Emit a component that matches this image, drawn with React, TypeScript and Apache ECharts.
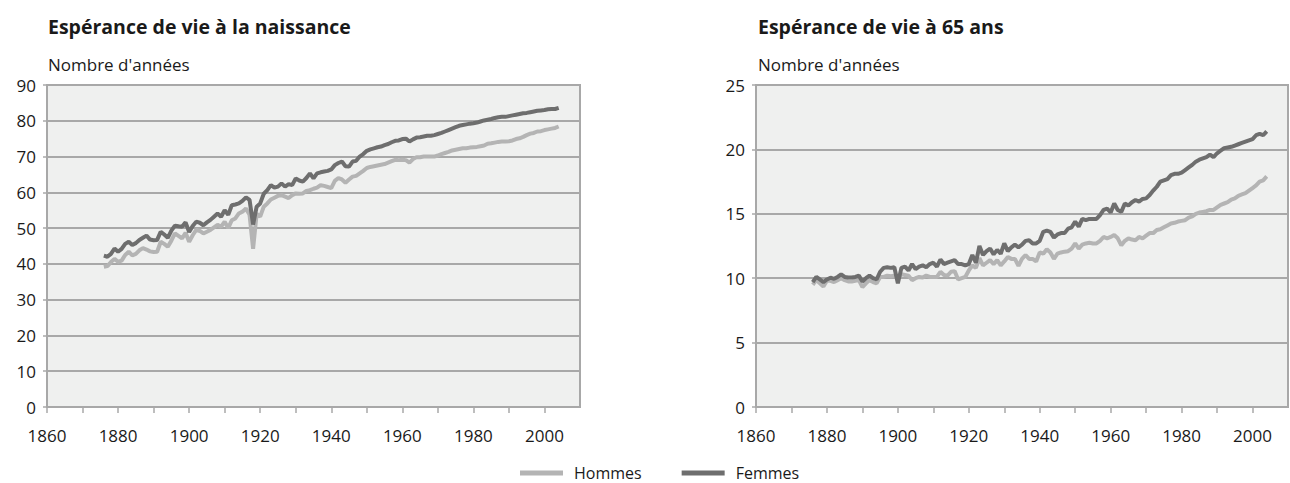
import React, { useEffect, useRef } from "react";
import * as echarts from "echarts";

const FIRST_YEAR = 1876;

// Espérance de vie à la naissance (années), 1876–2004
const hommesNaissance = [
  39.2, 39.4, 40.5, 41.4, 40.6, 40.9, 42.5, 43.4, 42.4, 42.8,
  43.8, 44.4, 44.0, 43.5, 43.3, 43.4, 46.2, 45.6, 44.8, 46.5,
  48.5, 47.8, 47.1, 48.7, 46.2, 48.0, 49.5, 49.2, 48.5, 49.0,
  49.5, 50.2, 50.9, 50.4, 51.8, 50.0, 52.2, 52.7, 54.1, 54.6,
  55.5, 53.7, 44.2, 54.0, 53.2, 56.0, 56.9, 58.0, 58.5, 59.0,
  59.2, 58.8, 58.4, 59.2, 59.7, 59.6, 59.7, 60.4, 60.6, 61.0,
  61.3, 62.0, 61.8, 61.5, 61.2, 63.2, 64.0, 63.6, 62.7, 63.6,
  64.4, 64.6, 65.3, 66.0, 66.8, 67.1, 67.3, 67.5, 67.7, 67.9,
  68.3, 68.7, 69.1, 69.0, 69.1, 69.0, 68.3, 69.3, 69.8, 69.8,
  70.0, 70.0, 70.0, 70.0, 70.3, 70.7, 71.0, 71.3, 71.7, 71.9,
  72.1, 72.3, 72.3, 72.5, 72.6, 72.7, 72.9, 73.1, 73.6, 73.7,
  73.9, 74.1, 74.2, 74.2, 74.3, 74.5, 74.9, 75.1, 75.5, 76.0,
  76.4, 76.6, 77.0, 77.1, 77.4, 77.6, 77.8, 78.0, 78.4,
];
const femmesNaissance = [
  42.3, 42.0, 42.8, 44.3, 43.4, 44.2, 45.6, 46.2, 45.3, 45.8,
  46.7, 47.3, 47.9, 46.8, 46.6, 46.7, 49.0, 48.2, 47.3, 49.3,
  50.7, 50.5, 50.4, 51.6, 48.9, 50.6, 51.8, 51.5, 50.8, 51.6,
  52.3, 53.2, 54.1, 53.2, 55.0, 53.7, 56.4, 56.6, 56.9, 57.6,
  58.6, 57.9, 51.0, 56.0, 56.9, 59.6, 60.6, 62.0, 61.3, 61.6,
  62.5, 61.6, 62.3, 62.0, 63.9, 63.3, 63.0, 64.0, 65.3, 63.9,
  65.3, 65.6, 65.8, 66.0, 66.4, 67.6, 68.2, 68.6, 67.3, 67.2,
  68.6, 68.8, 70.0, 70.7, 71.6, 72.0, 72.3, 72.6, 72.8, 73.2,
  73.5, 74.0, 74.4, 74.5, 74.9, 75.0, 74.2, 74.8, 75.3, 75.4,
  75.6, 75.8, 75.8, 76.0, 76.3, 76.6, 77.0, 77.4, 77.8, 78.2,
  78.6, 78.8, 79.0, 79.2, 79.3, 79.5, 79.8, 80.1, 80.3, 80.5,
  80.8, 81.0, 81.1, 81.1, 81.3, 81.5, 81.7, 81.9, 82.1, 82.2,
  82.4, 82.6, 82.8, 82.9, 83.0, 83.2, 83.3, 83.3, 83.6,
];

// Espérance de vie à 65 ans (années), 1876–2004
const hommes65 = [
  9.5, 9.85, 9.6, 9.35, 9.8, 9.8, 9.7, 9.85, 10.0, 9.85,
  9.75, 9.75, 9.8, 9.85, 9.3, 9.6, 9.85, 9.7, 9.6, 10.1,
  10.1, 10.2, 10.15, 10.2, 10.0, 10.3, 10.25, 10.2, 9.85, 10.0,
  10.1, 10.05, 10.2, 10.1, 10.1, 10.1, 10.5, 10.25, 10.2, 10.5,
  10.55, 9.9, 10.0, 10.1, 10.6, 11.0, 10.8, 11.55, 11.0, 11.2,
  11.4, 11.1, 11.4, 11.0, 11.3, 11.65, 11.5, 11.5, 10.95, 11.5,
  11.8, 11.5, 11.5, 11.3, 12.0, 11.9, 12.25, 12.0, 11.5, 11.9,
  12.0, 12.06, 12.1, 12.3, 12.7, 12.3, 12.6, 12.7, 12.75, 12.7,
  12.7, 12.9, 13.2, 13.1, 13.2, 13.35, 13.1, 12.55, 12.9, 13.1,
  13.0, 12.95, 13.2, 13.1, 13.3, 13.5, 13.5, 13.74, 13.8, 13.95,
  14.1, 14.25, 14.3, 14.4, 14.45, 14.5, 14.7, 14.8, 15.0, 15.1,
  15.15, 15.2, 15.3, 15.3, 15.5, 15.7, 15.8, 15.9, 16.1, 16.2,
  16.4, 16.5, 16.6, 16.8, 17.0, 17.2, 17.5, 17.6, 17.9,
];
const femmes65 = [
  9.7, 10.1, 9.9, 9.7, 9.9, 10.04, 9.95, 10.1, 10.3, 10.1,
  10.05, 10.05, 10.1, 10.2, 9.75, 10.0, 10.2, 10.0, 9.9, 10.5,
  10.8, 10.85, 10.8, 10.85, 9.6, 10.8, 10.9, 10.6, 11.1, 10.7,
  10.9, 11.0, 10.85, 11.1, 11.2, 10.9, 11.45, 11.1, 11.2, 11.3,
  11.4, 11.1, 11.1, 11.0, 11.1, 11.8, 11.2, 12.5, 11.8, 12.1,
  12.3, 11.85, 12.2, 11.9, 12.7, 12.1, 12.4, 12.6, 12.4, 12.6,
  12.9, 12.95, 12.7, 12.7, 12.9, 13.6, 13.7, 13.6, 13.15, 13.4,
  13.5, 13.5, 13.85, 13.95, 14.4, 14.0, 14.6, 14.5, 14.6, 14.6,
  14.6, 14.9, 15.3, 15.4, 15.1, 15.8, 15.3, 15.15, 15.8, 15.65,
  15.9, 16.07, 15.95, 16.15, 16.2, 16.46, 16.8, 17.1, 17.5, 17.6,
  17.7, 18.0, 18.1, 18.1, 18.2, 18.4, 18.6, 18.8, 19.05, 19.2,
  19.3, 19.4, 19.6, 19.4, 19.7, 19.9, 20.1, 20.15, 20.2, 20.3,
  20.4, 20.5, 20.6, 20.7, 20.8, 21.1, 21.2, 21.1, 21.4,
];

const years = hommesNaissance.map((_, i) => FIRST_YEAR + i);
const pairs = (vals: number[]) => vals.map((v, i) => [years[i], v]);

const SERIES_NAMES = ["Hommes", "Femmes"];
const titles = ["Espérance de vie à la naissance", "Espérance de vie à 65 ans"];
const unitLabel = "Nombre d'années";

const FONT = "'Open Sans', 'Noto Sans', sans-serif";
const GRID_COLOR = "#a8a8a8";
const TEXT_COLOR = "#1a1a1a";
const COLOR_H = "#b4b4b4";
const COLOR_F = "#6e6e6e";

export default function App() {
  const ref = useRef<HTMLDivElement>(null);

  useEffect(() => {
    if (!ref.current) return;
    const chart = echarts.init(ref.current, null, { renderer: "svg" });

    const xAxisCfg = (gridIndex: number) => ({
      gridIndex,
      type: "value",
      min: 1860,
      max: 2010,
      interval: 10,
      axisLine: { show: true, lineStyle: { color: GRID_COLOR, width: 2 } },
      axisTick: { show: true, length: 6, lineStyle: { color: GRID_COLOR, width: 1.5 } },
      splitLine: { show: false },
      axisLabel: {
        color: TEXT_COLOR,
        fontFamily: FONT,
        fontSize: 17,
        margin: 20,
        showMaxLabel: false,
        formatter: (v: number) => (v % 20 === 0 && v < 2010 ? String(v) : ""),
      },
    });

    const yAxisCfg = (gridIndex: number, max: number, interval: number) => ({
      gridIndex,
      type: "value",
      min: 0,
      max,
      interval,
      axisLine: { show: true, lineStyle: { color: GRID_COLOR, width: 2 } },
      axisTick: { show: true, length: 4, lineStyle: { color: GRID_COLOR, width: 1.5 } },
      splitLine: { show: true, lineStyle: { color: GRID_COLOR, width: 2 } },
      axisLabel: {
        color: TEXT_COLOR,
        fontFamily: FONT,
        fontSize: 17,
        margin: 11,
      },
    });

    const lineSeries = (name: string, data: number[], color: string, idx: number) => ({
      name,
      type: "line",
      xAxisIndex: idx,
      yAxisIndex: idx,
      data: pairs(data),
      showSymbol: false,
      symbol: "none",
      lineStyle: { color, width: 4 },
      itemStyle: { color },
      emphasis: { disabled: true },
    });

    const titleStyle = { fontSize: 19.5, fontWeight: "bold", color: TEXT_COLOR, fontFamily: FONT };
    const subStyle = { fontSize: 17, fontWeight: "normal", color: TEXT_COLOR, fontFamily: FONT };

    chart.setOption({
      animation: false,
      backgroundColor: "#ffffff",
      textStyle: { fontFamily: FONT },
      title: [
        { text: titles[0], left: 48, top: 16, padding: 0, textStyle: titleStyle },
        { text: unitLabel, left: 48, top: 56, padding: 0, textStyle: subStyle },
        { text: titles[1], left: 758, top: 16, padding: 0, textStyle: titleStyle },
        { text: unitLabel, left: 758, top: 56, padding: 0, textStyle: subStyle },
      ],
      legend: {
        data: SERIES_NAMES,
        left: 520,
        top: 465,
        padding: 0,
        icon: "rect",
        itemWidth: 43,
        itemHeight: 5,
        itemGap: 40,
        textStyle: { color: TEXT_COLOR, fontFamily: FONT, fontSize: 16, padding: [0, 0, 0, 6] },
      },
      grid: [
        { left: 47, top: 85, width: 533, height: 322, show: true, backgroundColor: "#eff0ef", borderColor: GRID_COLOR, borderWidth: 2, containLabel: false },
        { left: 756, top: 85, width: 532, height: 322, show: true, backgroundColor: "#eff0ef", borderColor: GRID_COLOR, borderWidth: 2, containLabel: false },
      ],
      xAxis: [xAxisCfg(0), xAxisCfg(1)],
      yAxis: [yAxisCfg(0, 90, 10), yAxisCfg(1, 25, 5)],
      series: [
        lineSeries(SERIES_NAMES[0], hommesNaissance, COLOR_H, 0),
        lineSeries(SERIES_NAMES[1], femmesNaissance, COLOR_F, 0),
        lineSeries(SERIES_NAMES[0], hommes65, COLOR_H, 1),
        lineSeries(SERIES_NAMES[1], femmes65, COLOR_F, 1),
      ],
    });

    return () => chart.dispose();
  }, []);

  return (
    <div
      ref={ref}
      style={{ position: "fixed", left: 0, top: 0, width: 1290, height: 483 }}
    />
  );
}
